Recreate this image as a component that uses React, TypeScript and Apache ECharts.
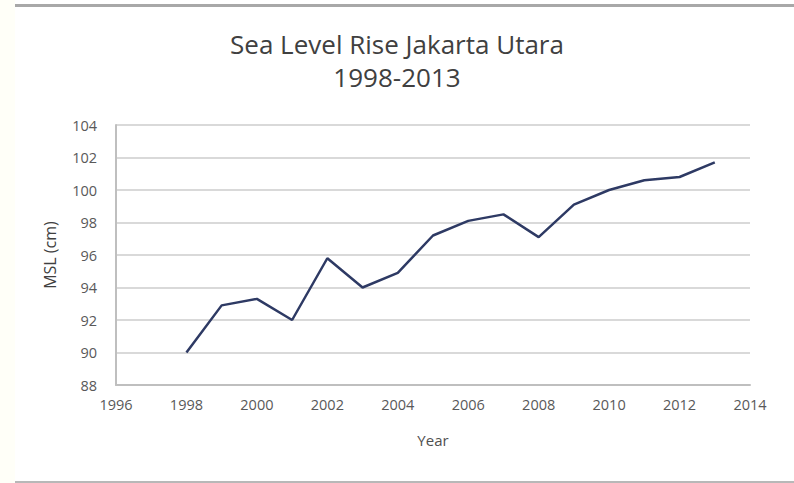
import React, { useEffect, useRef } from "react";
import * as echarts from "echarts";

const years = [1998, 1999, 2000, 2001, 2002, 2003, 2004, 2005, 2006, 2007, 2008, 2009, 2010, 2011, 2012, 2013];
const msl = [90.0, 92.9, 93.3, 92.0, 95.8, 94.0, 94.9, 97.2, 98.1, 98.5, 97.1, 99.1, 100.0, 100.6, 100.8, 101.7];
const titleLines = ["Sea Level Rise Jakarta Utara", "1998-2013"];
const xName = "Year";
const yName = "MSL (cm)";

export default function App() {
  const ref = useRef<HTMLDivElement>(null);
  useEffect(() => {
    document.body.style.margin = "0";
    const chart = echarts.init(ref.current!, null, { renderer: "svg" });
    const font = "'Open Sans', 'Noto Sans', sans-serif";
    chart.setOption({
      animation: false,
      backgroundColor: "#ffffff",
      title: {
        text: titleLines.join("\n"),
        left: "center",
        top: 22,
        textStyle: { fontFamily: font, fontSize: 26, fontWeight: "normal", color: "#404040", lineHeight: 33 },
      },
      graphic: [
        { type: "rect", shape: { x: 0, y: 0, width: 15, height: 483 }, style: { fill: "#fffff8" }, silent: true },
        { type: "rect", shape: { x: 15, y: 4, width: 779, height: 3 }, style: { fill: "#a8a8a8" }, silent: true },
        { type: "rect", shape: { x: 15, y: 481, width: 779, height: 2 }, style: { fill: "#b8b8b8" }, silent: true },
      ],
      grid: { left: 116, right: 44, top: 125, bottom: 98 },
      xAxis: {
        type: "value",
        min: 1996,
        max: 2014,
        interval: 2,
        name: xName,
        nameLocation: "middle",
        nameGap: 47,
        nameTextStyle: { fontFamily: font, fontSize: 15, color: "#505050" },
        axisLine: { show: true, lineStyle: { color: "#bfbfbf", width: 2 } },
        axisTick: { show: false },
        splitLine: { show: false },
        axisLabel: { fontFamily: font, fontSize: 14.5, color: "#595959", margin: 12, formatter: (v: number) => String(v) },
      },
      yAxis: {
        type: "value",
        min: 88,
        max: 104,
        interval: 2,
        name: yName,
        nameLocation: "middle",
        nameGap: 58,
        nameTextStyle: { fontFamily: font, fontSize: 16, color: "#404040" },
        axisLine: { show: true, lineStyle: { color: "#bfbfbf", width: 2 } },
        axisTick: { show: false },
        splitLine: { show: true, lineStyle: { color: "#d9d9d9", width: 2 } },
        axisLabel: { fontFamily: font, fontSize: 14.5, color: "#595959", margin: 19 },
      },
      series: [
        {
          type: "line",
          data: years.map((y, i) => [y, msl[i]]),
          showSymbol: false,
          lineStyle: { color: "#2e3a64", width: 2.5 },
        },
      ],
    });
    return () => chart.dispose();
  }, []);
  return <div ref={ref} style={{ position: "fixed", left: 0, top: 0, width: 794, height: 483 }} />;
}
